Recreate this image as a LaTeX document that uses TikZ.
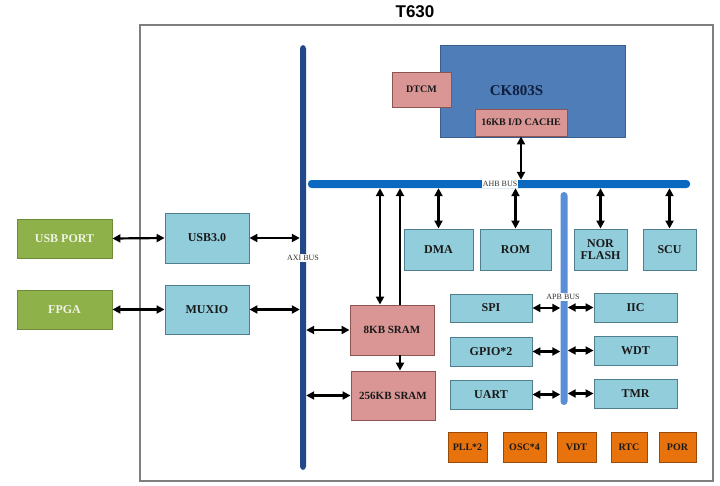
\documentclass[tikz,border=0pt]{standalone}
\usepackage{fontspec}
\setmainfont{Liberation Serif}
\newfontfamily\titlefont{Liberation Sans}
\usepackage{tikz}
\usetikzlibrary{arrows.meta, positioning}
\definecolor{perifill}{HTML}{92CDDC}
\definecolor{periline}{HTML}{4F7F8C}
\definecolor{memfill}{HTML}{D99694}
\definecolor{memline}{HTML}{8C5553}
\definecolor{extfill}{HTML}{8FB14A}
\definecolor{extline}{HTML}{6E8B3A}
\definecolor{exttext}{HTML}{EEF3E2}
\definecolor{cpufill}{HTML}{4F7DB8}
\definecolor{cpuline}{HTML}{3A5F8E}
\definecolor{cputext}{HTML}{0F1F3F}
\definecolor{clkfill}{HTML}{E8720C}
\definecolor{clkline}{HTML}{9A4A08}
\definecolor{axiblue}{HTML}{23488A}
\definecolor{ahbblue}{HTML}{0A68BE}
\definecolor{apbblue}{HTML}{5A8ED6}
\definecolor{framegray}{HTML}{7F7F7F}

\begin{document}
\begin{tikzpicture}[
    x=1pt, y=-1pt,
    blk/.style={rectangle, draw, line width=0.9pt, inner sep=0pt, align=center, text=black!90, font=\bfseries\fontsize{12}{13}\selectfont},
    peri/.style={blk, fill=perifill, draw=periline},
    mem/.style={blk, fill=memfill, draw=memline},
    ext/.style={blk, fill=extfill, draw=extline, text=exttext},
    clk/.style={blk, fill=clkfill, draw=clkline, font=\bfseries\fontsize{10}{11}\selectfont},
    bus/.style={rectangle, rounded corners=3.5pt, inner sep=0pt, draw=none},
    buslabel/.style={fill=white, inner sep=1pt, font=\fontsize{8}{9}\selectfont, text=black!80},
    link/.style={{Triangle[length=8pt,width=8pt]}-{Triangle[length=8pt,width=8pt]}, line width=2.2pt},
    uplink/.style={-{Triangle[length=8pt,width=8pt]}, line width=2.2pt}
]
    \useasboundingbox (0,0) rectangle (720,485);

    % chip outline
    \node[font=\titlefont\bfseries\fontsize{17}{19}\selectfont] (title) at (415,12) {T630};
    \draw[framegray, line width=1.2pt] (140,25) rectangle (713,481);

    % buses
    \node[bus, fill=axiblue, minimum width=6pt, minimum height=425pt] (axi) at (303,257.5) {};
    \node[bus, fill=ahbblue, minimum width=382pt, minimum height=8pt] (ahb) at (499,184) {};
    \node[bus, fill=apbblue, minimum width=7pt, minimum height=213pt] (apb) at (564,298.5) {};

    % core
    \node[blk, fill=cpufill, draw=cpuline, minimum width=185pt, minimum height=92pt,
          label={[font=\bfseries\fontsize{15}{17}\selectfont, text=cputext, xshift=-16pt]center:CK803S}] (cpu) at (532.5,91) {};
    \node[mem, minimum width=59pt, minimum height=35pt, font=\bfseries\fontsize{10}{11}\selectfont] (dtcm) at (421.5,89.5) {DTCM};
    \node[mem, minimum width=92pt, minimum height=27pt, font=\bfseries\fontsize{10}{11}\selectfont] (cache) at (521,122.5) {16KB I/D CACHE};

    % external
    \node[ext, minimum width=95pt, minimum height=39pt] (usbport) at (64.5,238.5) {USB PORT};
    \node[ext, minimum width=95pt, minimum height=39pt] (fpga) at (64.5,309.5) {FPGA};
    \node[peri, minimum width=84pt, minimum height=50pt] (usb3) at (207,238) {USB3.0};
    \node[peri, minimum width=84pt, minimum height=49pt] (muxio) at (207,309.5) {MUXIO};

    % AHB slaves
    \node[peri, minimum width=69pt, minimum height=41pt] (dma) at (438.5,249.5) {DMA};
    \node[peri, minimum width=71pt, minimum height=41pt] (rom) at (515.5,249.5) {ROM};
    \node[peri, minimum width=53pt, minimum height=41pt, font=\bfseries\fontsize{12}{12}\selectfont] (nor) at (600.5,249.5) {NOR\\FLASH};
    \node[peri, minimum width=53pt, minimum height=41pt] (scu) at (669.5,249.5) {SCU};

    % SRAM
    \node[mem, minimum width=84pt, minimum height=50pt, font=\bfseries\fontsize{11}{12}\selectfont] (sram8) at (392,330) {8KB SRAM};
    \node[mem, minimum width=84pt, minimum height=49pt, font=\bfseries\fontsize{11}{12}\selectfont] (sram256) at (393,395.5) {256KB SRAM};

    % APB peripherals
    \node[peri, minimum width=82pt, minimum height=28pt] (spi) at (491,308) {SPI};
    \node[peri, minimum width=82pt, minimum height=29pt] (gpio) at (491,351.5) {GPIO*2};
    \node[peri, minimum width=82pt, minimum height=29pt] (uart) at (491,394.5) {UART};
    \node[peri, minimum width=83pt, minimum height=29pt] (iic) at (635.5,307.5) {IIC};
    \node[peri, minimum width=83pt, minimum height=29pt] (wdt) at (635.5,350.5) {WDT};
    \node[peri, minimum width=83pt, minimum height=29pt] (tmr) at (635.5,393.5) {TMR};

    % clock / power
    \node[clk, minimum width=39pt, minimum height=30pt] (pll) at (467.5,447) {PLL*2};
    \node[clk, minimum width=43pt, minimum height=30pt] (osc) at (524.5,447) {OSC*4};
    \node[clk, minimum width=39pt, minimum height=30pt] (vdt) at (576.5,447) {VDT};
    \node[clk, minimum width=36pt, minimum height=30pt] (rtc) at (629,447) {RTC};
    \node[clk, minimum width=37pt, minimum height=30pt] (por) at (677.5,447) {POR};

    % bus labels
    \node[buslabel] (axilabel) at (303,258) {AXI BUS};
    \node[buslabel] (ahblabel) at (500,184) {AHB BUS};
    \node[buslabel] (apblabel) at (563,297) {APB BUS};

    % connections
    \draw[link] (usbport.east) -- (usb3.west);
    \draw[link] (fpga.east) -- (muxio.west);
    \draw[link] (usb3.east) -- (usb3.east -| axi.west);
    \draw[link] (muxio.east) -- (muxio.east -| axi.west);
    \draw[link] (sram8.west) -- (sram8.west -| axi.east);
    \draw[link] (sram256.west) -- (sram256.west -| axi.east);

    \draw[link] (cache.south) -- (cache.south |- ahb.north);
    \draw[link] (dma.north) -- (dma.north |- ahb.south);
    \draw[link] (rom.north) -- (rom.north |- ahb.south);
    \draw[link] (nor.north) -- (nor.north |- ahb.south);
    \draw[link] (scu.north) -- (scu.north |- ahb.south);

    \draw[link] ([xshift=-12pt]sram8.north) -- ([xshift=-12pt]sram8.north |- ahb.south);
    \draw[uplink] ([xshift=8pt]sram8.north) -- ([xshift=8pt]sram8.north |- ahb.south);
    \draw[uplink] ([xshift=8pt]sram8.south) -- ([xshift=8pt]sram8.south |- sram256.north);

    \foreach \p in {spi, gpio, uart}
        \draw[link] (\p.east) -- (\p.east -| apb.west);
    \foreach \p in {iic, wdt, tmr}
        \draw[link] (\p.west) -- (\p.west -| apb.east);
\end{tikzpicture}
\end{document}
